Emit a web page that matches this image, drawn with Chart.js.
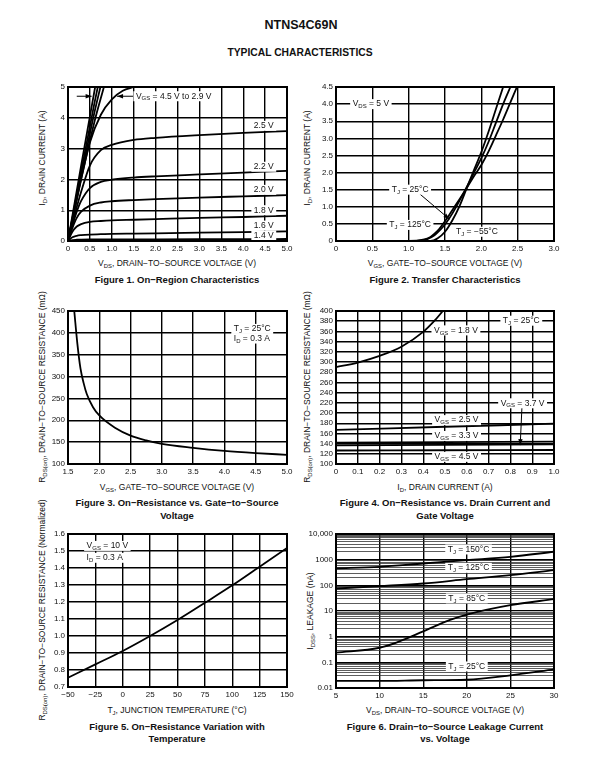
<!DOCTYPE html>
<html>
<head>
<meta charset="utf-8">
<script src="https://cdn.jsdelivr.net/npm/chart.js@4.4.0/dist/chart.umd.min.js"></script>
<style>
  body { margin: 0; background: #fff; }
  #page { position: relative; width: 602px; height: 776px; font-family: "Liberation Sans", Arial, sans-serif; color: #111; overflow: hidden; }
  .t { position: absolute; white-space: nowrap; transform: translate(-50%, -50%); font-size: 8.5px; line-height: 1; }
  .b { font-weight: bold; font-size: 9.5px; }
  .rot { transform: translate(-50%, -50%) rotate(-90deg); }
  sub { font-size: 70%; vertical-align: -2px; line-height: 0; }
  canvas { position: absolute; }
</style>
</head>
<body>
<div id="page">
  <div class="t b" style="left:301px;top:25px;font-size:12.5px">NTNS4C69N</div>
  <div class="t b" style="left:300px;top:53px;font-size:10.3px">TYPICAL CHARACTERISTICS</div>

  <div class="t rot" style="left:42px;top:158px">I<sub>D</sub>, DRAIN CURRENT (A)</div>
  <div class="t" style="left:177px;top:263px">V<sub>DS</sub>, DRAIN−TO−SOURCE VOLTAGE (V)</div>
  <div class="t b" style="left:177px;top:280px">Figure 1. On−Region Characteristics</div>

  <div class="t rot" style="left:307px;top:158px">I<sub>D</sub>, DRAIN CURRENT (A)</div>
  <div class="t" style="left:445px;top:263px">V<sub>GS</sub>, GATE−TO−SOURCE VOLTAGE (V)</div>
  <div class="t b" style="left:445px;top:280px">Figure 2. Transfer Characteristics</div>

  <div class="t rot" style="left:42px;top:387px">R<sub>DS(on)</sub>, DRAIN−TO−SOURCE RESISTANCE (mΩ)</div>
  <div class="t" style="left:177px;top:487px">V<sub>GS</sub>, GATE−TO−SOURCE VOLTAGE (V)</div>
  <div class="t b" style="left:177px;top:503px">Figure 3. On−Resistance vs. Gate−to−Source</div>
  <div class="t b" style="left:177px;top:516px">Voltage</div>

  <div class="t rot" style="left:307px;top:387px">R<sub>DS(on)</sub>, DRAIN−TO−SOURCE RESISTANCE (mΩ)</div>
  <div class="t" style="left:445px;top:487px">I<sub>D</sub>, DRAIN CURRENT (A)</div>
  <div class="t b" style="left:445px;top:503px">Figure 4. On−Resistance vs. Drain Current and</div>
  <div class="t b" style="left:445px;top:516px">Gate Voltage</div>

  <div class="t rot" style="left:42px;top:610px">R<sub>DS(on)</sub>, DRAIN−TO−SOURCE RESISTANCE (Normalized)</div>
  <div class="t" style="left:177px;top:710px">T<sub>J</sub>, JUNCTION TEMPERATURE (°C)</div>
  <div class="t b" style="left:177px;top:727px">Figure 5. On−Resistance Variation with</div>
  <div class="t b" style="left:177px;top:739px">Temperature</div>

  <div class="t rot" style="left:310px;top:611px">I<sub>DSS</sub>, LEAKAGE (nA)</div>
  <div class="t" style="left:445px;top:710px">V<sub>DS</sub>, DRAIN−TO−SOURCE VOLTAGE (V)</div>
  <div class="t b" style="left:445px;top:727px">Figure 6. Drain−to−Source Leakage Current</div>
  <div class="t b" style="left:445px;top:739px">vs. Voltage</div>
</div>

<script>
// ---- Figure 1: on-region, ID vs VDS
const fig1Vds = [0, 0.1, 0.2, 0.3, 0.5, 0.75, 1.0, 1.5, 2.0, 3.0, 4.0, 5.0];
const fig1Id14 = [0, 0.03, 0.04, 0.045, 0.05, 0.05, 0.05, 0.05, 0.055, 0.06, 0.06, 0.065];
const fig1Id16 = [0, 0.12, 0.17, 0.19, 0.21, 0.22, 0.23, 0.24, 0.25, 0.27, 0.29, 0.31];
const fig1Id18 = [0, 0.3, 0.47, 0.55, 0.62, 0.65, 0.67, 0.69, 0.71, 0.75, 0.78, 0.82];
const fig1Id20 = [0, 0.42, 0.75, 0.95, 1.15, 1.25, 1.29, 1.33, 1.36, 1.41, 1.45, 1.49];
const fig1Id22 = [0, 0.5, 0.95, 1.3, 1.72, 1.92, 1.99, 2.06, 2.1, 2.16, 2.22, 2.28];
const fig1Id25 = [0, 0.55, 1.1, 1.6, 2.45, 2.95, 3.12, 3.28, 3.35, 3.44, 3.51, 3.57];
const fig1Vds29 = [0, 0.25, 0.5, 0.75, 1.0, 1.25, 1.5];
const fig1Id29 = [0, 1.7, 3.2, 4.1, 4.6, 4.88, 5.0];
const fig1Vds30 = [0, 0.3, 0.6, 0.82];
const fig1Id30 = [0, 2.0, 3.85, 5.0];
const fig1Vds33 = [0, 0.3, 0.6, 0.74];
const fig1Id33 = [0, 2.1, 4.15, 5.0];
const fig1Vds37 = [0, 0.3, 0.6, 0.68];
const fig1Id37 = [0, 2.25, 4.45, 5.0];
const fig1Vds45 = [0, 0.3, 0.62];
const fig1Id45 = [0, 2.45, 5.0];
const fig1XTicks = ['0', '0.5', '1.0', '1.5', '2.0', '2.5', '3.0', '3.5', '4.0', '4.5', '5.0'];
const fig1YTicks = ['0', '1', '2', '3', '4', '5'];

// ---- Figure 2: transfer, ID vs VGS
const fig2Vgs125 = [0, 1.0, 1.2, 1.3, 1.4, 1.5, 1.6, 1.7, 1.8, 1.9, 2.0, 2.1, 2.2, 2.3, 2.4, 2.49];
const fig2Id125 = [0, 0, 0.04, 0.12, 0.3, 0.58, 0.9, 1.22, 1.55, 1.9, 2.22, 2.62, 3.08, 3.55, 4.05, 4.5];
const fig2Vgs25 = [0, 1.1, 1.25, 1.35, 1.45, 1.5, 1.6, 1.7, 1.8, 1.9, 2.0, 2.1, 2.2, 2.3, 2.4];
const fig2Id25 = [0, 0, 0.05, 0.16, 0.36, 0.48, 0.8, 1.18, 1.58, 2.0, 2.42, 2.9, 3.45, 4.0, 4.5];
const fig2VgsM55 = [0, 1.3, 1.4, 1.5, 1.6, 1.7, 1.8, 1.9, 2.0, 2.1, 2.2, 2.3];
const fig2IdM55 = [0, 0, 0.08, 0.27, 0.6, 1.02, 1.55, 2.08, 2.6, 3.2, 3.85, 4.5];
const fig2XTicks = ['0', '0.5', '1.0', '1.5', '2.0', '2.5', '3.0'];
const fig2YTicks = ['0', '0.5', '1.0', '1.5', '2.0', '2.5', '3.0', '3.5', '4.0', '4.5'];

// ---- Figure 3: RDS(on) vs VGS
const fig3Vgs = [1.6, 1.65, 1.7, 1.75, 1.8, 1.9, 2.0, 2.25, 2.5, 2.75, 3.0, 3.5, 4.0, 4.5, 5.0];
const fig3Rds = [450, 375, 318, 285, 260, 230, 211, 183, 165, 154, 146, 137, 130, 125, 121];
const fig3XTicks = ['1.5', '2.0', '2.5', '3.0', '3.5', '4.0', '4.5', '5.0'];
const fig3YTicks = ['100', '150', '200', '250', '300', '350', '400', '450'];

// ---- Figure 4: RDS(on) vs ID
const fig4Id18 = [0, 0.1, 0.2, 0.3, 0.4, 0.45, 0.49];
const fig4Rds18 = [290, 299, 312, 330, 359, 380, 400];
const fig4Id = [0, 0.5, 1.0];
const fig4Rds25 = [167, 173, 179];
const fig4Rds33 = [142, 143, 144];
const fig4Rds37 = [136.5, 137.5, 138.5];
const fig4Rds45 = [126.5, 127, 127.5];
const fig4XTicks = ['0', '0.1', '0.2', '0.3', '0.4', '0.5', '0.6', '0.7', '0.8', '0.9', '1.0'];
const fig4YTicks = ['100', '120', '140', '160', '180', '200', '220', '240', '260', '280', '300', '320', '340', '360', '380', '400'];

// ---- Figure 5: normalized RDS(on) vs TJ
const fig5Tj = [-50, -25, 0, 25, 50, 75, 100, 125, 150];
const fig5Rn = [0.755, 0.833, 0.912, 1.0, 1.094, 1.195, 1.298, 1.408, 1.518];
const fig5XTicks = ['−50', '−25', '0', '25', '50', '75', '100', '125', '150'];
const fig5YTicks = ['0.7', '0.8', '0.9', '1.0', '1.1', '1.2', '1.3', '1.4', '1.5', '1.6'];

// ---- Figure 6: IDSS leakage vs VDS (log)
const fig6Vds = [5, 10, 15, 20, 25, 30];
const fig6Idss150 = [457, 525, 710, 960, 1290, 2040];
const fig6Idss125 = [75, 93, 118, 173, 250, 390];
const fig6Vds85 = [5, 10, 12, 15, 18, 20, 25, 30];
const fig6Idss85 = [0.24, 0.37, 0.6, 1.6, 4.4, 7.3, 17, 29];
const fig6Idss25 = [0.019, 0.019, 0.02, 0.021, 0.031, 0.053];
const fig6XTicks = ['5', '10', '15', '20', '25', '30'];
const fig6YTicks = ['0.01', '0.1', '1', '10', '100', '1000', '10,000'];

const FONT = '"Liberation Sans", Arial, sans-serif';
const num = s => Number(s.replace('\u2212', '-').replace(',', ''));
const pts = (xs, ys) => xs.map((x, i) => ({ x: x, y: ys[i] }));

// split "V_{GS} = 5 V" into normal / subscript pieces
function richParts(str) {
  const parts = [];
  const re = /_\{([^}]*)\}/g;
  let last = 0, m;
  while ((m = re.exec(str))) {
    if (m.index > last) parts.push([str.slice(last, m.index), false]);
    parts.push([m[1], true]);
    last = re.lastIndex;
  }
  if (last < str.length) parts.push([str.slice(last), false]);
  return parts;
}

function drawRich(ctx, str, x, y, align) {
  const parts = richParts(str);
  const big = '8.5px ' + FONT, small = '6px ' + FONT;
  let w = 0;
  parts.forEach(p => { ctx.font = p[1] ? small : big; w += ctx.measureText(p[0]).width; });
  let x0 = align === 'left' ? x : x - w / 2;
  ctx.fillStyle = '#fff';
  ctx.fillRect(x0 - 2.5, y - 5, w + 5, 10);
  ctx.fillStyle = '#111';
  ctx.textBaseline = 'middle';
  ctx.textAlign = 'left';
  parts.forEach(p => {
    ctx.font = p[1] ? small : big;
    ctx.fillText(p[0], x0, p[1] ? y + 2.5 : y);
    x0 += ctx.measureText(p[0]).width;
  });
}

function drawArrow(ctx, x1, y1, x2, y2) {
  const a = Math.atan2(y2 - y1, x2 - x1);
  ctx.strokeStyle = '#000';
  ctx.fillStyle = '#000';
  ctx.lineWidth = 1;
  ctx.beginPath();
  ctx.moveTo(x1, y1);
  ctx.lineTo(x2, y2);
  ctx.stroke();
  ctx.beginPath();
  ctx.moveTo(x2, y2);
  ctx.lineTo(x2 - 6 * Math.cos(a) + 2.2 * Math.sin(a), y2 - 6 * Math.sin(a) - 2.2 * Math.cos(a));
  ctx.lineTo(x2 - 6 * Math.cos(a) - 2.2 * Math.sin(a), y2 - 6 * Math.sin(a) + 2.2 * Math.cos(a));
  ctx.closePath();
  ctx.fill();
}

const notesPlugin = {
  id: 'notes',
  afterDatasetsDraw(chart, args, opts) {
    const ctx = chart.ctx, sx = chart.scales.x, sy = chart.scales.y;
    ctx.save();
    (opts.arrows || []).forEach(a => drawArrow(ctx,
      sx.getPixelForValue(a[0]), sy.getPixelForValue(a[1]),
      sx.getPixelForValue(a[2]), sy.getPixelForValue(a[3])));
    (opts.labels || []).forEach(l => drawRich(ctx, l[0],
      sx.getPixelForValue(l[1]), sy.getPixelForValue(l[2]), l[3]));
    ctx.restore();
  },
  afterDraw(chart) {
    // heavy frame round the plot
    const a = chart.chartArea, ctx = chart.ctx;
    ctx.save();
    ctx.strokeStyle = '#000';
    ctx.lineWidth = 2;
    ctx.strokeRect(a.left, a.top, a.right - a.left, a.bottom - a.top);
    ctx.restore();
  }
};
Chart.register(notesPlugin);

function axis(labels, extra) {
  const vals = labels.map(num);
  return Object.assign({
    type: 'linear',
    min: vals[0],
    max: vals[vals.length - 1],
    afterBuildTicks: s => { s.ticks = vals.map(v => ({ value: v })); },
    ticks: {
      callback: (v, i) => labels[i],
      font: { family: FONT, size: 8 },
      color: '#111',
      padding: 3,
      autoSkip: false,
      maxRotation: 0
    },
    grid: { color: '#000', lineWidth: 1.4, drawTicks: false },
    border: { display: false }
  }, extra || {});
}

function line(data) {
  return {
    data: data,
    borderColor: '#000',
    borderWidth: 1.8,
    pointRadius: 0,
    fill: false,
    cubicInterpolationMode: 'monotone'
  };
}

// plot box = exact plot area on the page
function makeChart(box, xAxis, yAxis, datasets, notes) {
  const cv = document.createElement('canvas');
  cv.width = box[2] + 44;
  cv.height = box[3] + 22;
  cv.style.left = (box[0] - 32) + 'px';
  cv.style.top = (box[1] - 8) + 'px';
  document.getElementById('page').appendChild(cv);
  xAxis.afterFit = s => { s.height = 14; };
  yAxis.afterFit = s => { s.width = 32; };
  return new Chart(cv.getContext('2d'), {
    type: 'line',
    data: { datasets: datasets },
    options: {
      responsive: false,
      animation: false,
      events: [],
      layout: { padding: { top: 8, right: 12, bottom: 0, left: 0 } },
      scales: { x: xAxis, y: yAxis },
      plugins: { legend: { display: false }, tooltip: { enabled: false }, notes: notes }
    }
  });
}

// Figure 1
makeChart([68, 87, 219, 154], axis(fig1XTicks), axis(fig1YTicks), [
  line(pts(fig1Vds, fig1Id14)), line(pts(fig1Vds, fig1Id16)), line(pts(fig1Vds, fig1Id18)),
  line(pts(fig1Vds, fig1Id20)), line(pts(fig1Vds, fig1Id22)), line(pts(fig1Vds, fig1Id25)),
  line(pts(fig1Vds29, fig1Id29)), line(pts(fig1Vds30, fig1Id30)), line(pts(fig1Vds33, fig1Id33)),
  line(pts(fig1Vds37, fig1Id37)), line(pts(fig1Vds45, fig1Id45))
], {
  arrows: [[0.2, 4.7, 0.54, 4.7], [1.6, 4.7, 1.12, 4.7]],
  labels: [
    ['V_{GS} = 4.5 V to 2.9 V', 1.55, 4.7, 'left'],
    ['2.5 V', 4.47, 3.74], ['2.2 V', 4.47, 2.41], ['2.0 V', 4.47, 1.66],
    ['1.8 V', 4.47, 1.0], ['1.6 V', 4.47, 0.5], ['1.4 V', 4.47, 0.17]
  ]
});

// Figure 2
makeChart([336, 87, 218, 154], axis(fig2XTicks), axis(fig2YTicks), [
  line(pts(fig2Vgs125, fig2Id125)), line(pts(fig2Vgs25, fig2Id25)), line(pts(fig2VgsM55, fig2IdM55))
], {
  arrows: [[1.15, 1.38, 1.56, 0.64]],
  labels: [
    ['V_{DS} = 5 V', 0.48, 4.0], ['T_{J} = 25°C', 1.02, 1.5],
    ['T_{J} = 125°C', 1.02, 0.47], ['T_{J} = −55°C', 1.94, 0.27]
  ]
});

// Figure 3
makeChart([68, 311, 219, 153], axis(fig3XTicks), axis(fig3YTicks), [
  line(pts(fig3Vgs, fig3Rds))
], {
  labels: [['T_{J} = 25°C', 4.15, 409, 'left'], ['I_{D} = 0.3 A', 4.15, 387, 'left']]
});

// Figure 4
makeChart([336, 311, 218, 153], axis(fig4XTicks), axis(fig4YTicks), [
  line(pts(fig4Id18, fig4Rds18)), line(pts(fig4Id, fig4Rds25)), line(pts(fig4Id, fig4Rds33)),
  line(pts(fig4Id, fig4Rds37)), line(pts(fig4Id, fig4Rds45))
], {
  arrows: [[0.853, 212, 0.845, 137]],
  labels: [
    ['V_{GS} = 1.8 V', 0.55, 362], ['T_{J} = 25°C', 0.85, 381], ['V_{GS} = 3.7 V', 0.856, 219],
    ['V_{GS} = 2.5 V', 0.553, 186], ['V_{GS} = 3.3 V', 0.553, 155], ['V_{GS} = 4.5 V', 0.553, 114]
  ]
});

// Figure 5
makeChart([68, 534, 219, 153], axis(fig5XTicks), axis(fig5YTicks), [
  line(pts(fig5Tj, fig5Rn))
], {
  labels: [['V_{GS} = 10 V', -33, 1.53, 'left'], ['I_{D} = 0.3 A', -33, 1.46, 'left']]
});

// Figure 6 (log scale, minor grid every 1..9 per decade)
const fig6Major = fig6YTicks.map(num);
const fig6Grid = [];
fig6Major.forEach((v, i) => {
  fig6Grid.push(v);
  if (i < fig6Major.length - 1) for (let m = 2; m <= 9; m++) fig6Grid.push(v * m);
});
const fig6Y = axis(fig6YTicks, { type: 'logarithmic' });
fig6Y.afterBuildTicks = s => { s.ticks = fig6Grid.map(v => ({ value: v })); };
fig6Y.ticks.callback = v => {
  const k = fig6Major.indexOf(v);
  return k >= 0 ? fig6YTicks[k] : '';
};
fig6Y.grid.lineWidth = c => (c.tick && fig6Major.indexOf(c.tick.value) >= 0 ? 1.3 : 0.8);
fig6Y.grid.color = c => (c.tick && fig6Major.indexOf(c.tick.value) >= 0 ? '#000' : '#333');
makeChart([336, 534, 218, 154], axis(fig6XTicks), fig6Y, [
  line(pts(fig6Vds, fig6Idss150)), line(pts(fig6Vds, fig6Idss125)),
  line(pts(fig6Vds85, fig6Idss85)), line(pts(fig6Vds, fig6Idss25))
], {
  labels: [
    ['T_{J} = 150°C', 20.2, 2500], ['T_{J} = 125°C', 20.2, 480],
    ['T_{J} = 85°C', 20, 31], ['T_{J} = 25°C', 20, 0.069]
  ]
});
</script>
</body>
</html>
